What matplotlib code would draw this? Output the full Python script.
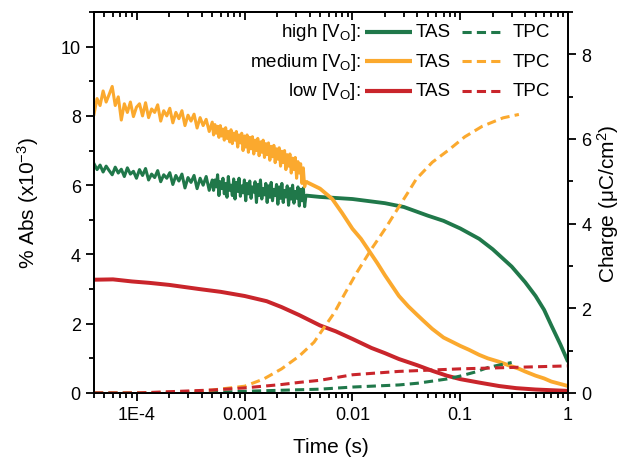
import numpy as np
import matplotlib
matplotlib.use('Agg')
import matplotlib.pyplot as plt
from matplotlib.ticker import LogLocator, FixedLocator, FixedFormatter, MultipleLocator, NullFormatter

plt.rcParams['font.family'] = ['Liberation Sans', 'DejaVu Sans']
plt.rcParams['mathtext.fontset'] = 'custom'
plt.rcParams['mathtext.rm'] = 'Liberation Sans'
plt.rcParams['mathtext.it'] = 'Liberation Sans:italic'

# --- colours ---
GREEN = '#20784a'
ORANGE = '#fba92e'
RED = '#c9252b'

# --- TAS, noisy early part (hand read, log-spaced time grid) ---
# part a: 4e-5 .. 5e-4 s, part b: 5e-4 .. 3.6e-3 s
high_noisy_a = [6.62, 6.45, 6.58, 6.38, 6.55, 6.42, 6.3, 6.52, 6.35, 6.46, 6.25, 6.5, 6.32, 6.4,
                6.2, 6.45, 6.28, 6.48, 6.15, 6.32, 6.22, 6.42, 6.1, 6.3, 6.2, 6.36, 6.02, 6.28,
                6.12, 6.32, 5.92, 6.22, 6.08, 6.28, 5.9, 6.2, 6.0, 6.25, 5.85, 6.15]
high_noisy_b = [6.25, 5.85, 6.15, 5.95, 6.3, 5.7, 6.1, 5.9, 6.2, 5.75, 6.05, 5.65, 6.25, 5.85,
                6.0, 5.7, 6.18, 5.6, 6.08, 5.82, 6.2, 5.68, 5.98, 5.78, 6.15, 5.55, 6.05, 5.75,
                6.12, 5.62, 5.95, 5.8, 6.1, 5.5, 6.02, 5.7, 6.15, 5.6, 5.9, 5.72, 6.05, 5.5,
                5.98, 5.65, 6.08, 5.55, 5.88, 5.7, 6.02, 5.45, 5.95, 5.62, 6.05, 5.5, 5.85, 5.66,
                5.98, 5.42, 5.9, 5.6, 6.0, 5.48, 5.82, 5.62, 5.95, 5.4, 5.88, 5.55, 5.92, 5.38]
med_noisy_a = [8.05, 8.5, 8.3, 8.72, 8.4, 8.62, 8.85, 8.3, 8.55, 7.88, 8.35, 8.1, 8.4, 7.98,
               8.25, 8.35, 8.0, 8.38, 7.95, 8.2, 8.1, 8.32, 7.85, 8.15, 8.0, 8.22, 7.8, 8.1,
               7.92, 8.15, 7.72, 8.02, 7.85, 8.05, 7.65, 7.95, 7.72, 7.9, 7.55, 7.82]
med_noisy_b = [7.8, 7.45, 7.75, 7.5, 7.7, 7.38, 7.72, 7.42, 7.62, 7.3, 7.66, 7.35, 7.55, 7.25,
               7.6, 7.2, 7.5, 7.3, 7.55, 7.1, 7.45, 7.22, 7.5, 7.0, 7.42, 7.1, 7.45, 6.95,
               7.38, 7.05, 7.4, 6.9, 7.3, 7.0, 7.35, 6.85, 7.25, 6.95, 7.3, 6.8, 7.2, 6.88,
               7.22, 6.72, 7.12, 6.82, 7.15, 6.65, 7.05, 6.75, 7.08, 6.55, 6.98, 6.65, 7.0, 6.45,
               6.88, 6.55, 6.9, 6.35, 6.78, 6.45, 6.8, 6.2, 6.68, 6.35, 6.62, 6.05, 6.5, 5.95]

# --- TAS, smooth later part ---
high_t = [3.7e-3, 5e-3, 0.01, 0.02, 0.03, 0.05, 0.07, 0.1, 0.15, 0.2, 0.3, 0.4, 0.5,
          0.6, 0.7, 0.85, 1.0]
high_abs = [5.7, 5.66, 5.6, 5.48, 5.37, 5.12, 4.97, 4.75, 4.45, 4.15, 3.65, 3.2, 2.8,
            2.4, 1.95, 1.4, 0.9]
med_t = [3.7e-3, 5e-3, 6.5e-3, 8e-3, 0.01, 0.012, 0.0145, 0.017, 0.02, 0.027, 0.033,
         0.04, 0.045, 0.055, 0.07, 0.085, 0.1, 0.12, 0.15, 0.18, 0.23, 0.28, 0.35, 0.4,
         0.5, 0.6, 0.7, 0.85, 1.0]
med_abs = [6.1, 5.9, 5.6, 5.2, 4.74, 4.45, 4.07, 3.75, 3.4, 2.8, 2.5, 2.25, 2.1, 1.85,
           1.6, 1.47, 1.36, 1.25, 1.1, 1.0, 0.9, 0.8, 0.7, 0.62, 0.5, 0.42, 0.33, 0.26, 0.2]
low_t = [4e-5, 6e-5, 9e-5, 1.3e-4, 2e-4, 3.8e-4, 6e-4, 1e-3, 1.6e-3, 2.2e-3, 3.2e-3,
         5e-3, 7e-3, 0.01, 0.015, 0.02, 0.027, 0.04, 0.055, 0.075, 0.1, 0.15, 0.23, 0.33,
         0.5, 0.7, 1.0]
low_abs = [3.27, 3.28, 3.22, 3.18, 3.12, 3.0, 2.92, 2.8, 2.65, 2.48, 2.25, 1.95, 1.78,
           1.56, 1.3, 1.15, 0.98, 0.8, 0.64, 0.5, 0.4, 0.3, 0.2, 0.14, 0.1, 0.08, 0.06]

# --- TPC charge (right axis) ---
med_q_t = [4e-5, 1e-4, 3e-4, 5e-4, 1e-3, 1.5e-3, 2.2e-3, 3.2e-3, 4.4e-3, 6.8e-3, 8.5e-3,
           0.011, 0.015, 0.02, 0.027, 0.033, 0.039, 0.055, 0.079, 0.11, 0.16, 0.25, 0.35]
med_q = [0.0, 0.0, 0.03, 0.07, 0.16, 0.33, 0.57, 0.87, 1.2, 1.9, 2.35, 2.85, 3.4, 3.87,
         4.4, 4.75, 5.05, 5.45, 5.75, 6.05, 6.3, 6.5, 6.58]
low_q_t = [4e-5, 1e-4, 2e-4, 5e-4, 1e-3, 2.2e-3, 3.2e-3, 5e-3, 0.01, 0.027, 0.1, 1.0]
low_q = [0.0, 0.0, 0.03, 0.07, 0.12, 0.2, 0.25, 0.3, 0.43, 0.51, 0.57, 0.64]
high_q_t = [4e-5, 3e-4, 5e-4, 1e-3, 5e-3, 0.01, 0.027, 0.04, 0.055, 0.075, 0.1, 0.14,
            0.18, 0.22, 0.3]
high_q = [0.0, 0.0, 0.01, 0.04, 0.09, 0.14, 0.19, 0.23, 0.28, 0.33, 0.4, 0.5, 0.6,
          0.65, 0.72]

x_ticks = [1e-4, 1e-3, 1e-2, 1e-1, 1]
x_ticklabels = ['1E-4', '0.001', '0.01', '0.1', '1']

series = [
    (GREEN, high_noisy_a, high_noisy_b, high_t, high_abs),
    (ORANGE, med_noisy_a, med_noisy_b, med_t, med_abs),
]

fig = plt.figure(figsize=(6.21, 4.64), dpi=100)
ax = fig.add_axes([0.1514, 0.1509, 0.7633, 0.8211])
ax2 = ax.twinx()

TAS_LW = 2.2
DASH = (0, (3, 1.7))

for col, na, nb, ts, vals in series:
    ta = np.geomspace(4e-5, 5e-4, len(na))
    tb = np.geomspace(5e-4, 3.6e-3, len(nb))
    t_noisy = np.concatenate([ta, tb[1:], ts[:1]])
    v_noisy = np.concatenate([na, nb[1:], vals[:1]])
    ax.plot(t_noisy, v_noisy, color=col, lw=2.2)
    ax.plot(ts, vals, color=col, lw=TAS_LW * 1.25, solid_capstyle='butt')
ax.plot(low_t, low_abs, color=RED, lw=TAS_LW * 1.3)

ax2.plot(high_q_t, high_q, color=GREEN, lw=TAS_LW, ls=DASH)
ax2.plot(med_q_t, med_q, color=ORANGE, lw=TAS_LW, ls=DASH)
ax2.plot(low_q_t, low_q, color=RED, lw=TAS_LW, ls=DASH)

ax.set_xscale('log')
ax.set_xlim(4e-5, 1)
ax.set_ylim(0, 11)
ax2.set_ylim(0, 9)

ax.xaxis.set_major_locator(FixedLocator(x_ticks))
ax.xaxis.set_major_formatter(FixedFormatter(x_ticklabels))
ax.xaxis.set_minor_locator(LogLocator(base=10, subs=np.arange(2, 10), numticks=20))
ax.xaxis.set_minor_formatter(NullFormatter())
ax.yaxis.set_major_locator(MultipleLocator(2))
ax.yaxis.set_minor_locator(MultipleLocator(1))
ax2.yaxis.set_major_locator(MultipleLocator(2))
ax2.yaxis.set_minor_locator(MultipleLocator(1))

ax.tick_params(axis='both', which='major', direction='out', length=6, width=1.3,
               labelsize=13, top=False)
ax.tick_params(axis='both', which='minor', direction='out', length=3.5, width=1.3,
               top=False)
ax2.tick_params(axis='y', which='major', direction='out', length=6, width=1.3, labelsize=13)
ax2.tick_params(axis='y', which='minor', direction='out', length=3.5, width=1.3)

# top ticks point inward
sec = ax.secondary_xaxis('top')
sec.xaxis.set_major_locator(FixedLocator(x_ticks))
sec.xaxis.set_minor_locator(LogLocator(base=10, subs=np.arange(2, 10), numticks=20))
sec.xaxis.set_major_formatter(NullFormatter())
sec.xaxis.set_minor_formatter(NullFormatter())
sec.tick_params(which='major', direction='in', length=6, width=1.3)
sec.tick_params(which='minor', direction='in', length=3.5, width=1.3)
sec.spines['top'].set_linewidth(1.3)

for sp in list(ax.spines.values()) + list(ax2.spines.values()):
    sp.set_linewidth(1.3)

ax.set_xlabel('Time (s)', fontsize=15, labelpad=10)
ax.set_ylabel('% Abs (x10$^{-3}$)', fontsize=15, labelpad=14)
ax2.set_ylabel('Charge (μC/cm$^2$)', fontsize=15, labelpad=3)

# --- legend drawn row by row ---
rows = [('high', GREEN, 0.9475), ('medium', ORANGE, 0.871), ('low', RED, 0.793)]
for label, col, y in rows:
    ax.text(0.563, y, label + ' [V$_\\mathrm{O}$]:', transform=ax.transAxes,
            ha='right', va='center', fontsize=13.5)
    ax.plot([0.572, 0.671], [y, y], transform=ax.transAxes, color=col, lw=3,
            clip_on=False, solid_capstyle='butt')
    ax.text(0.679, y, 'TAS', transform=ax.transAxes, ha='left', va='center', fontsize=13.5)
    ax.plot([0.776, 0.866], [y, y], transform=ax.transAxes, color=col, lw=TAS_LW,
            ls=DASH, clip_on=False)
    ax.text(0.884, y, 'TPC', transform=ax.transAxes, ha='left', va='center', fontsize=13.5)

fig.savefig('out.png', dpi=100)
